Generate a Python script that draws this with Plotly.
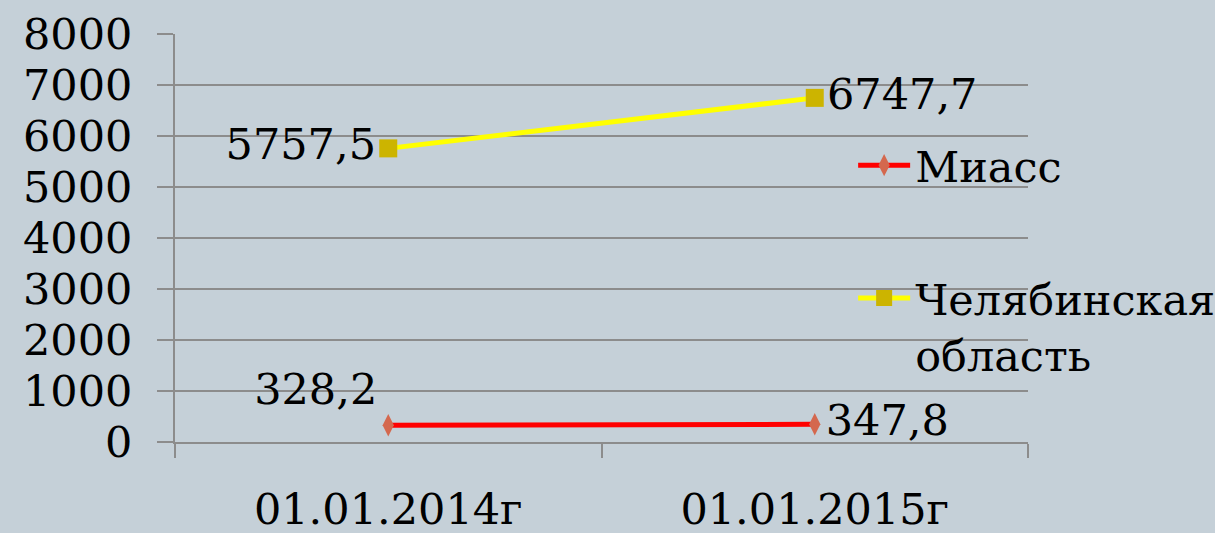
import plotly.graph_objects as go

categories = ["01.01.2014г", "01.01.2015г"]
miass = [328.2, 347.8]
chel = [5757.5, 6747.7]
miass_labels = ["328,2", "347,8"]
chel_labels = ["5757,5", "6747,7"]
y_ticks = [0, 1000, 2000, 3000, 4000, 5000, 6000, 7000, 8000]

FONT = "DejaVu Serif, Liberation Serif, serif"
FS = 43
GRID = "#8c8c8c"
BG = "#c5d0d8"

fig = go.Figure()
fig.add_trace(go.Scatter(
    x=categories, y=miass, name="Миасс", mode="lines+markers+text",
    line=dict(color="#ff0000", width=5),
    marker=dict(symbol="diamond-tall", color="#d4684e", size=16),
    text=miass_labels, textposition=["top left", "middle right"],
    textfont=dict(family=FONT, size=FS, color="black"),
    legendgroup="a",
))
fig.add_trace(go.Scatter(
    x=categories, y=chel, name="Челябинская<br>область", mode="lines+markers+text",
    line=dict(color="#ffff00", width=5),
    marker=dict(symbol="square", color="#ccb400", size=18),
    text=chel_labels, textposition=["middle left", "middle right"],
    textfont=dict(family=FONT, size=FS, color="black"),
    legendgroup="b",
))

fig.update_layout(
    width=1215, height=533,
    margin=dict(l=175, r=187, t=34, b=91, autoexpand=False),
    paper_bgcolor=BG, plot_bgcolor=BG,
    font=dict(family=FONT, size=FS, color="black"),
    showlegend=True,
    legend=dict(
        x=0.795, xanchor="left", y=0.763, yanchor="top",
        bgcolor="rgba(0,0,0,0)", font=dict(family=FONT, size=FS),
        tracegroupgap=74, valign="top", itemwidth=52,
    ),
    xaxis=dict(
        type="category", categoryorder="array", categoryarray=categories,
        range=[-0.5, 1.5], tickson="boundaries", ticks="outside",
        ticklen=14, tickwidth=2, tickcolor=GRID,
        showline=True, linecolor=GRID, linewidth=2, showgrid=False,
        ticklabelstandoff=28, zeroline=False, automargin=False,
    ),
    yaxis=dict(
        range=[0, 8000], tickvals=y_ticks, ticks="outside",
        ticklen=16, tickwidth=2, tickcolor=GRID,
        showline=True, linecolor=GRID, linewidth=2,
        showgrid=True, gridcolor=GRID, gridwidth=2,
        ticklabelstandoff=16, zeroline=False, automargin=False,
        tickfont=dict(family=FONT, size=FS),
    ),
)

fig.write_html("out.html", config={"displayModeBar": False})
with open("out.html", encoding="utf-8") as f:
    html = f.read()
html = html.replace("<head>", "<head><style>html,body{margin:0;padding:0;overflow:hidden;}</style>", 1)
with open("out.html", "w", encoding="utf-8") as f:
    f.write(html)
